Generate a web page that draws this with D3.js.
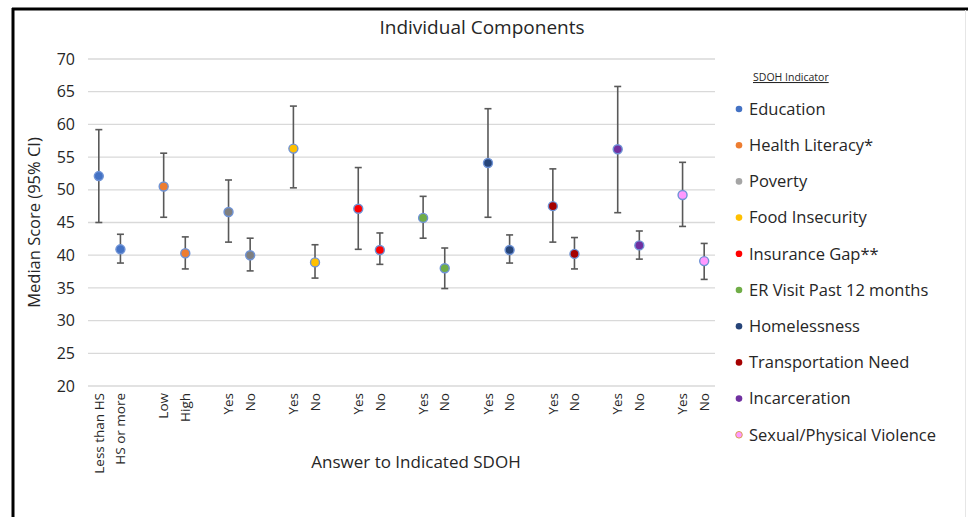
<!DOCTYPE html>
<html>
<head>
<meta charset="utf-8">
<script src="https://cdn.jsdelivr.net/npm/d3@7/dist/d3.min.js"></script>
<style>
  body { margin: 0; background: #fff; }
  svg { display: block; font-family: "Open Sans", "Noto Sans", sans-serif; }
</style>
</head>
<body>
<svg id="chart" width="968" height="517"></svg>
<script>
// categories (blank slots separate each indicator pair)
var slots = ["Less than HS", "HS or more", "", "Low", "High", "", "Yes", "No", "",
             "Yes", "No", "", "Yes", "No", "", "Yes", "No", "", "Yes", "No", "",
             "Yes", "No", "", "Yes", "No", "", "Yes", "No"];

var indicators = ["Education", "Health Literacy*", "Poverty", "Food Insecurity", "Insurance Gap**",
                  "ER Visit Past 12 months", "Homelessness", "Transportation Need", "Incarceration",
                  "Sexual/Physical Violence"];
var colors = ["#4472C4", "#ED7D31", "#7F7F7F", "#FFC000", "#FF0000",
              "#70AD47", "#264478", "#A50000", "#7030A0", "#FF99FF"];
var legendColors = ["#4472C4", "#ED7D31", "#A5A5A5", "#FFC000", "#FF0000",
                    "#70AD47", "#264478", "#A50000", "#7030A0", "#FF99FF"];

// [first answer, second answer] per indicator
var medians = [[52.1, 40.9], [50.5, 40.3], [46.6, 40.0], [56.3, 38.9], [47.1, 40.8],
               [45.7, 38.0], [54.1, 40.8], [47.5, 40.2], [56.2, 41.5], [49.2, 39.1]];
var ciLow   = [[45.0, 38.8], [45.8, 37.9], [42.0, 37.6], [50.3, 36.5], [40.9, 38.6],
               [42.6, 34.9], [45.8, 38.8], [42.0, 37.9], [46.5, 39.4], [44.4, 36.3]];
var ciHigh  = [[59.2, 43.2], [55.6, 42.8], [51.5, 42.6], [62.8, 41.6], [53.4, 43.4],
               [49.0, 41.1], [62.4, 43.1], [53.2, 42.7], [65.8, 43.7], [54.2, 41.8]];

var yTicks = [20, 25, 30, 35, 40, 45, 50, 55, 60, 65, 70];

var svg = d3.select("#chart"),
    margin = {top: 59, left: 88, right: 253, bottom: 131},
    width = 968 - margin.left - margin.right,
    height = 517 - margin.top - margin.bottom,
    g = svg.append("g").attr("transform", "translate(" + margin.left + "," + margin.top + ")");

// frame (top and left edges)
svg.append("line").attr("x1", 12).attr("x2", 968).attr("y1", 9).attr("y2", 9)
    .attr("stroke", "#000").attr("stroke-width", 3);
svg.append("line").attr("x1", 13).attr("x2", 13).attr("y1", 8).attr("y2", 517)
    .attr("stroke", "#000").attr("stroke-width", 3);
svg.append("line").attr("x1", 965.5).attr("x2", 965.5).attr("y1", 10).attr("y2", 517)
    .attr("stroke", "#e6e6e6").attr("stroke-width", 1);

var x = d3.scaleBand().domain(d3.range(slots.length)).range([0, width]);
var y = d3.scaleLinear().domain([20, 70]).range([height, 0]);

// gridlines
g.selectAll(".grid").data(yTicks).enter().append("line")
    .attr("class", "grid")
    .attr("x1", 0).attr("x2", width)
    .attr("y1", function(d) { return y(d); }).attr("y2", function(d) { return y(d); })
    .attr("stroke", "#d9d9d9").attr("stroke-width", 1.3);

// y axis labels
var yAxis = g.append("g").call(d3.axisLeft(y).tickValues(yTicks).tickSize(0).tickPadding(13));
yAxis.select(".domain").remove();
yAxis.selectAll("text").attr("font-size", 16).attr("fill", "#262626")
    .attr("font-family", "Open Sans, sans-serif");

// x axis labels
var xAxis = g.append("g").attr("transform", "translate(0," + height + ")")
    .call(d3.axisBottom(x).tickFormat(function(i) { return slots[i]; }).tickSize(0));
xAxis.select(".domain").remove();
xAxis.selectAll("text")
    .attr("font-size", 13.5).attr("fill", "#262626")
    .attr("font-family", "Open Sans, sans-serif")
    .attr("text-anchor", "end")
    .attr("transform", "rotate(-90)")
    .attr("dy", "0.35em").attr("dx", 0).attr("y", 0).attr("x", -7);

// flatten data to points
var points = [];
indicators.forEach(function(name, i) {
    [0, 1].forEach(function(j) {
        points.push({
            slot: i * 3 + j, color: colors[i],
            m: medians[i][j], lo: ciLow[i][j], hi: ciHigh[i][j]
        });
    });
});

var cx = function(d) { return x(d.slot) + x.bandwidth() / 2; };

var bars = g.selectAll(".err").data(points).enter().append("g").attr("class", "err")
    .attr("stroke", "#595959").attr("stroke-width", 1.6);
bars.append("line").attr("x1", cx).attr("x2", cx)
    .attr("y1", function(d) { return y(d.lo); }).attr("y2", function(d) { return y(d.hi); });
bars.append("line").attr("x1", function(d) { return cx(d) - 3.5; }).attr("x2", function(d) { return cx(d) + 3.5; })
    .attr("y1", function(d) { return y(d.hi); }).attr("y2", function(d) { return y(d.hi); });
bars.append("line").attr("x1", function(d) { return cx(d) - 3.5; }).attr("x2", function(d) { return cx(d) + 3.5; })
    .attr("y1", function(d) { return y(d.lo); }).attr("y2", function(d) { return y(d.lo); });

g.selectAll(".pt").data(points).enter().append("circle").attr("class", "pt")
    .attr("cx", cx).attr("cy", function(d) { return y(d.m); })
    .attr("r", 4.5)
    .attr("fill", function(d) { return d.color; })
    .attr("stroke", "#6f93d6").attr("stroke-width", 1.4);

// titles
svg.append("text").attr("x", 482).attr("y", 34).attr("text-anchor", "middle")
    .attr("font-size", 19).attr("fill", "#262626")
    .text("Individual Components");

svg.append("text").attr("transform", "translate(40," + (margin.top + height / 2) + ") rotate(-90)")
    .attr("text-anchor", "middle").attr("font-size", 16.5).attr("fill", "#262626")
    .text("Median Score (95% CI)");

svg.append("text").attr("x", 416).attr("y", 468).attr("text-anchor", "middle")
    .attr("font-size", 17).attr("fill", "#262626")
    .text("Answer to Indicated SDOH");

// legend
var legend = svg.append("g").attr("transform", "translate(739,0)");
legend.append("text").attr("x", 14).attr("y", 81).attr("font-size", 10.5).attr("fill", "#262626")
    .attr("text-decoration", "underline").text("SDOH Indicator");

var items = legend.selectAll(".leg").data(indicators).enter().append("g").attr("class", "leg")
    .attr("transform", function(d, i) { return "translate(0," + (109 + i * 36.2) + ")"; });
items.append("circle").attr("cx", 0).attr("cy", 0).attr("r", 3.3)
    .attr("fill", function(d, i) { return legendColors[i]; })
    .attr("stroke", function(d, i) { return i === 9 ? "#d9a050" : "none"; }).attr("stroke-width", 1);
items.append("text").attr("x", 10).attr("y", 0).attr("dy", "0.35em")
    .attr("font-size", 16.5).attr("fill", "#262626").text(function(d) { return d; });
</script>
</body>
</html>
